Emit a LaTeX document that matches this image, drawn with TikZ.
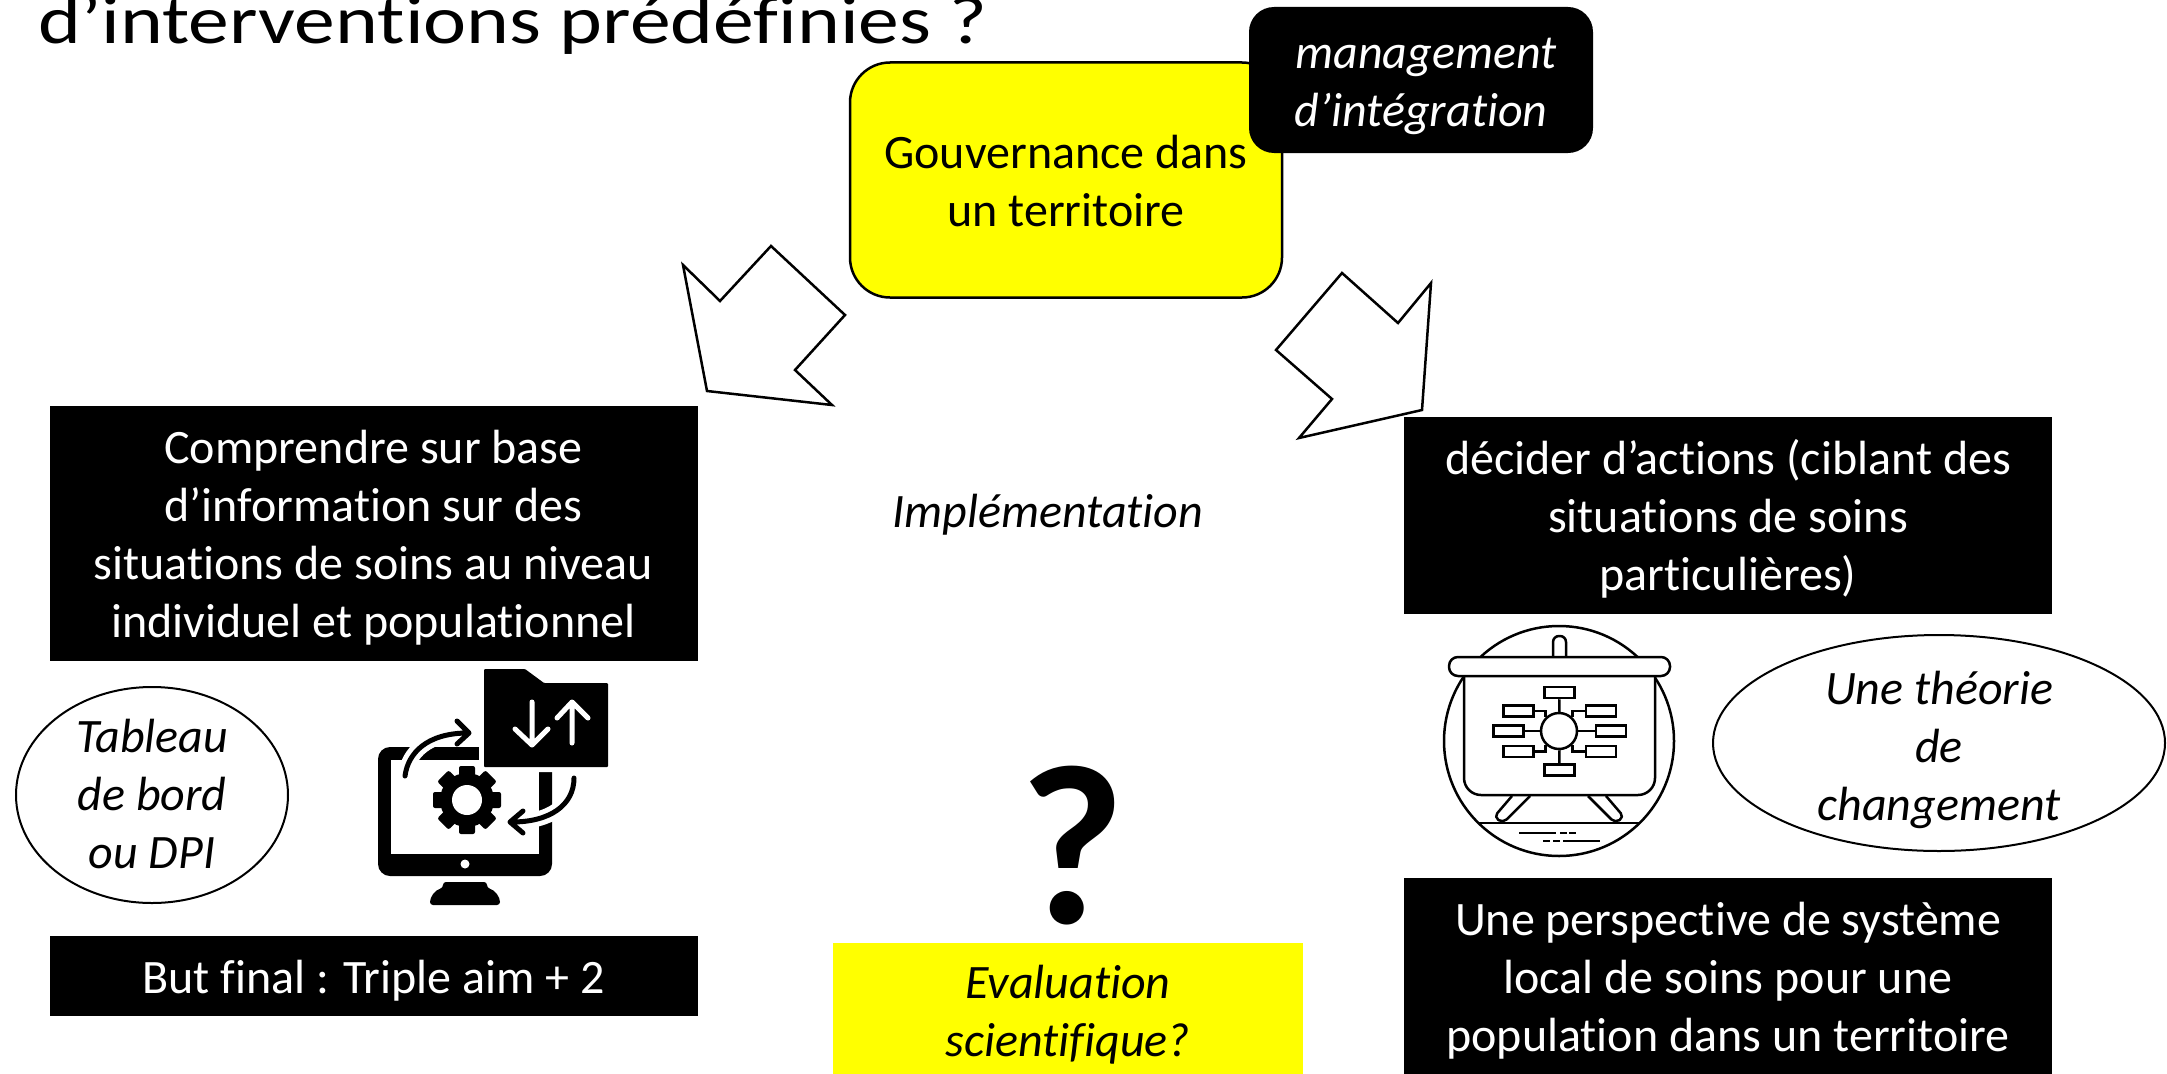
\documentclass[tikz,border=0pt]{standalone}
\usepackage{fontspec}
\setmainfont{Carlito}[Ligatures=CommonOff]
\newfontfamily\titlefont{Carlito}[Ligatures=CommonOff, FakeStretch=1.2]
\usetikzlibrary{calc}
\usetikzlibrary{shapes.geometric}
\definecolor{signyellow}{RGB}{255,255,0}
\newcommand{\lowered}[2]{\rule{0pt}{\dimexpr 40pt+#1\relax}#2\rule[-14pt]{0pt}{14pt}}
\tikzset{
  bodytext/.style={font=\fontsize{48}{58}\selectfont, align=center, inner sep=0pt},
  slanted/.style={font=\fontsize{48}{58}\selectfont\itshape},
  blackbox/.style={bodytext, fill=black, text=white, minimum width=648pt},
  roundbox/.style={bodytext, draw=black, line width=2.5pt, rounded corners=40pt},
  bubble/.style={bodytext, slanted, ellipse, draw=black, line width=2pt, inner sep=-50pt},
  hollowarrow/.style={draw=black, fill=white, line width=2.5pt, line join=miter},
  iconline/.style={line width=5pt, line cap=round, line join=round},
  boardline/.style={line width=2.5pt, line join=round},
  mapbox/.style={draw=black, fill=white, line width=2.5pt, minimum width=30pt, minimum height=11pt, inner sep=0pt},
}

\begin{document}
\begin{tikzpicture}[x=1pt, y=-1pt]
\useasboundingbox (0,0) rectangle (2167,1073);
\node[anchor=base west, inner sep=0pt, font=\fontsize{68}{68}\titlefont] (title) at (38,44) {d’interventions prédéfinies ?};

\node[roundbox, fill=signyellow, minimum width=432pt, minimum height=235pt] (gouvernance) at (1066,180) {\lowered{8pt}{Gouvernance dans\\un territoire}};
\node[blackbox, slanted, rounded corners=25pt, minimum width=344pt, minimum height=146pt] (management) at (1421,80) {\lowered{9pt}{\hspace*{10pt}management\\d’intégration}};

\draw[hollowarrow] (683,265) -- (720,301) -- (771,246) -- (845,315) -- (795,370) -- (832,405) -- (707,391) -- cycle;
\draw[hollowarrow] (1342,273) -- (1398,323) -- (1431,283) -- (1422,410) -- (1299,438) -- (1332,399) -- (1276,350) -- cycle;

\node[blackbox, minimum height=255pt] (comprendre) at (373.5,533.5) {\lowered{8pt}{Comprendre sur base\\d’information sur des\\situations de soins au niveau\\individuel et populationnel}};
\node[blackbox, minimum height=80pt] (but) at (373.5,976) {\lowered{8pt}{But final : Triple aim + 2}};
\node[blackbox, minimum height=197pt] (decider) at (1728,515.5) {\lowered{8pt}{décider d’actions (ciblant des\\situations de soins\\particulières)}};
\node[blackbox, minimum height=198pt] (perspective) at (1728,977) {\lowered{6pt}{Une perspective de système\\local de soins pour une\\population dans un territoire}};
\node[bodytext, slanted, fill=signyellow, minimum width=470pt, minimum height=138pt] (evaluation) at (1068,1012) {\lowered{5pt}{Evaluation\\scientifique?}};

\node[bubble, minimum width=272pt, minimum height=216pt] (tableau) at (152,795) {\lowered{5pt}{Tableau\\de bord\\ou DPI}};
\node[bubble, minimum width=452pt, minimum height=216pt] (theorie) at (1939,743) {\lowered{12pt}{Une théorie\\de\\changement}};
\node[bodytext, slanted] (implementation) at (1048,512) {\lowered{5pt}{Implémentation}};
\node[inner sep=0pt, font=\fontsize{228}{228}\selectfont\bfseries] (question) at (1072,846) {?};

\fill[rounded corners=12pt] (378,747) rectangle (552,876);
\fill[white] (391,760) rectangle (539,854);
\fill[white] (465,864) circle (4.5);
\fill[rounded corners=3pt] (443,882) -- (487,882) -- (487,888) .. controls (495,890) and (500,897) .. (500,905) -- (430,905) .. controls (430,897) and (435,890) .. (443,888) -- cycle;
\draw[white, line width=10pt, line join=round] (484,669) -- (525,669) -- (544,683) -- (608,683) -- (608,767) -- (484,767) -- cycle;
\fill[rounded corners=1pt] (484,669) -- (525,669) -- (544,683) -- (608,683) -- (608,767) -- (484,767) -- cycle;
\draw[white, iconline] (532,702) -- (532,745) (515,729) -- (532,745) -- (548,729);
\draw[white, iconline] (572,743) -- (572,702) (557,718) -- (572,702) -- (588,718);
\draw[white, line width=15pt] (405,776) .. controls (408,753) and (427,733) .. (468,733);
\draw[iconline] (405,776) .. controls (408,753) and (427,733) .. (468,733) (457,721) -- (469,733) -- (457,744);
\draw[white, line width=15pt] (574,778) .. controls (574,805) and (550,822) .. (512,822);
\draw[iconline] (574,778) .. controls (574,805) and (550,822) .. (512,822) (523,811) -- (510,822) -- (523,833);
\fill (467,800) circle (27);
\foreach \a in {0,45,...,315}
  \fill[rotate around={\a:(467,800)}, rounded corners=2pt] (459,766) rectangle (475,780);
\fill[white] (467,800) circle (15);

\draw[boardline] (1559,741) circle (115);
\draw[boardline, fill=white, rounded corners=6pt] (1553,657) -- (1553,636) -- (1566,636) -- (1566,657);
\draw[boardline, fill=white, rounded corners=17pt] (1464,670) -- (1464,795) -- (1655,795) -- (1655,670);
\draw[boardline] (1479,823) -- (1640,823);
\draw[boardline, rounded corners=5pt] (1512,796) -- (1494,817) -- (1503,823) -- (1530,796);
\draw[boardline, rounded corners=5pt] (1588,796) -- (1615,823) -- (1624,817) -- (1606,796);
\draw[boardline, fill=white, rounded corners=9pt] (1449,657) rectangle (1670,676);
\draw[line width=2.5pt] (1519,833) -- (1556,833) (1560,833) -- (1567,833) (1569,833) -- (1576,833);
\draw[line width=2.5pt] (1543,841) -- (1550,841) (1553,841) -- (1560,841) (1563,841) -- (1600,841);

\node[draw=black, fill=white, line width=2.5pt, circle, minimum size=36pt, inner sep=0pt] (mapcore) at (1559,731) {};
\node[mapbox] (maptop) at (1559.5,692.5) {};
\node[mapbox] (mapbottom) at (1559.5,770) {};
\node[mapbox] (mapleftup) at (1518.5,711) {};
\node[mapbox] (mapleft) at (1508.5,731) {};
\node[mapbox] (mapleftdown) at (1518.5,751.5) {};
\node[mapbox] (maprightup) at (1601,711) {};
\node[mapbox] (mapright) at (1611,731) {};
\node[mapbox] (maprightdown) at (1601,751.5) {};
\draw[line width=2.5pt] (maptop) -- (mapcore);
\draw[line width=2.5pt] (mapbottom) -- (mapcore);
\draw[line width=2.5pt] (mapleft) -- (mapcore);
\draw[line width=2.5pt] (mapright) -- (mapcore);
\draw[line width=2.5pt] (mapleftup) -| (mapcore.135);
\draw[line width=2.5pt] (mapleftdown) -| (mapcore.225);
\draw[line width=2.5pt] (maprightup) -| (mapcore.45);
\draw[line width=2.5pt] (maprightdown) -| (mapcore.315);
\end{tikzpicture}
\end{document}
